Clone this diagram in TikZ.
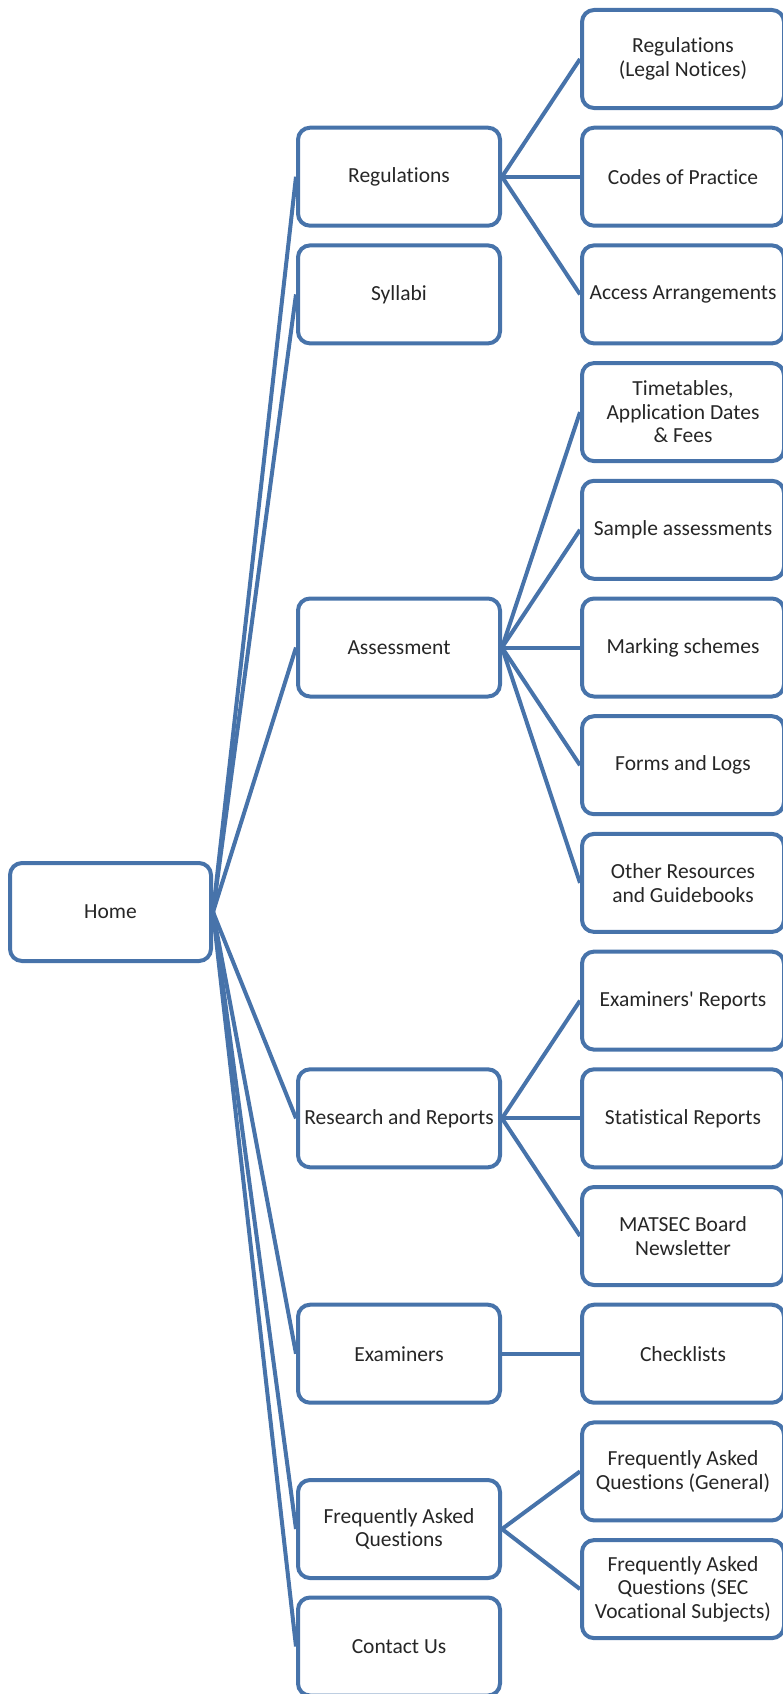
\documentclass[tikz,border=0pt]{standalone}
\usepackage{fontspec}
\setmainfont{Carlito}[Ligatures=NoCommon]
\definecolor{boxblue}{RGB}{71,115,170}

\begin{document}
\begin{tikzpicture}[x=1pt, y=-1pt,
    every node/.style={draw=boxblue, line width=4pt, rounded corners=12pt, align=center, text=black!85,
      font=\fontsize{21.5}{23.5}\selectfont, minimum width=202pt, minimum height=98pt, inner sep=2pt},
    link/.style={draw=boxblue, line width=4pt},
    ]
  \useasboundingbox (0,0) rectangle (782,1694);
  \node[minimum width=201pt] (home) at (110.5,912) {Home};

  \node (reg) at (399,176.7) {Regulations};
  \node (syl) at (399,294.4) {Syllabi};
  \node (ass) at (399,647.5) {Assessment};
  \node (res) at (399,1118.3) {Research and Reports};
  \node (exa) at (399,1353.7) {Examiners};
  \node (faq) at (399,1529) {Frequently Asked\\Questions};
  \node (con) at (399,1646.5) {Contact Us};

  \node (regl) at (683,59) {Regulations\\(Legal Notices)};
  \node (cod) at (683,176.7) {Codes of Practice};
  \node (acc) at (683,294.4) {Access Arrangements};
  \node (tim) at (683,412.1) {Timetables,\\Application Dates\\\& Fees};
  \node (sam) at (683,529.8) {Sample assessments};
  \node (mar) at (683,647.5) {Marking schemes};
  \node (for) at (683,765.2) {Forms and Logs};
  \node (oth) at (683,882.9) {Other Resources\\and Guidebooks};
  \node (exr) at (683,1000.6) {Examiners\textquotesingle{} Reports};
  \node (sta) at (683,1118.3) {Statistical Reports};
  \node (new) at (683,1236) {MATSEC Board\\Newsletter};
  \node (che) at (683,1353.7) {Checklists};
  \node (fgen) at (683,1471.4) {Frequently Asked\\Questions (General)};
  \node (fsec) at (683,1589.1) {Frequently Asked\\Questions (SEC\\Vocational Subjects)};

  \foreach \c in {reg,syl,ass,res,exa,faq,con}
    \draw[link] (home.east) -- (\c.west);
  \foreach \a/\b in {reg/regl,reg/cod,reg/acc,ass/tim,ass/sam,ass/mar,ass/for,ass/oth,
                     res/exr,res/sta,res/new,exa/che,faq/fgen,faq/fsec}
    \draw[link] (\a.east) -- (\b.west);
\end{tikzpicture}
\end{document}
